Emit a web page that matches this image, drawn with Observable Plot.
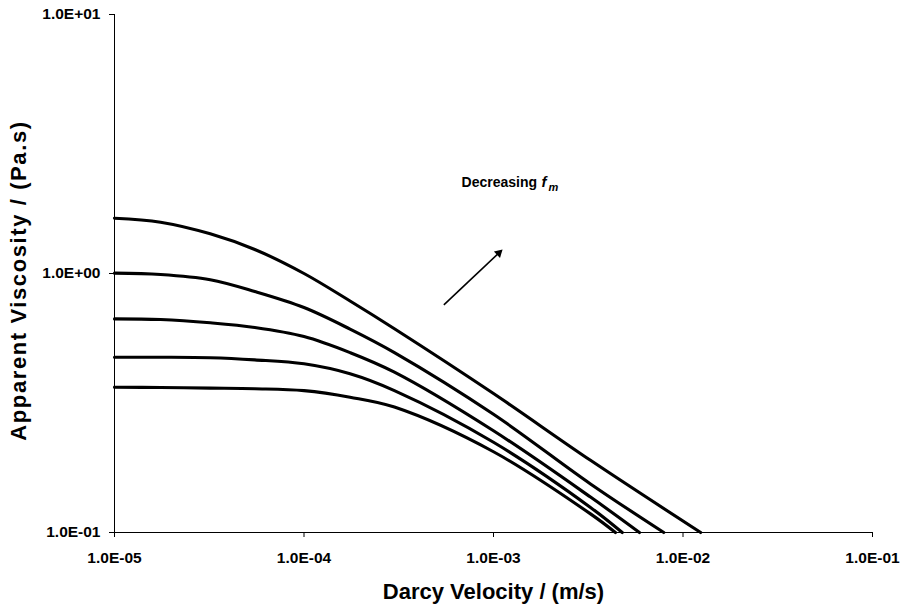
<!DOCTYPE html>
<html>
<head>
<meta charset="utf-8">
<script src="https://cdn.jsdelivr.net/npm/d3@7"></script>
<script src="https://cdn.jsdelivr.net/npm/@observablehq/plot@0.6"></script>
<style>
  html, body { margin: 0; padding: 0; background: #fff; }
</style>
</head>
<body>
<div id="chart"></div>
<script>
// Darcy velocity (m/s) sample points shared by all curves
const velocity = [1e-5, 1.75e-5, 3.2e-5, 5.5e-5, 1.0e-4, 1.75e-4, 3.0e-4, 1.0e-3, 3.25e-3];
// Apparent viscosity (Pa.s) of each curve at those velocities
const curve1 = [1.635, 1.578, 1.423, 1.238, 1.000, 0.783, 0.612, 0.344, 0.190];
const curve2 = [1.003, 0.991, 0.946, 0.852, 0.739, 0.610, 0.495, 0.286, 0.154];
const curve3 = [0.668, 0.664, 0.645, 0.619, 0.571, 0.495, 0.416, 0.247, 0.137];
const curve4 = [0.475, 0.475, 0.473, 0.464, 0.448, 0.410, 0.353, 0.223, 0.125];
const curve5 = [0.364, 0.363, 0.361, 0.359, 0.353, 0.333, 0.305, 0.205, 0.118];
// velocity where each curve leaves the chart at the bottom (viscosity 0.1)
const endVelocity = [1.24e-2, 7.92e-3, 5.89e-3, 4.78e-3, 4.40e-3];
const endViscosity = 0.1;

const xTicks = [1e-5, 1e-4, 1e-3, 1e-2, 1e-1];
const xTickLabels = ["1.0E-05", "1.0E-04", "1.0E-03", "1.0E-02", "1.0E-01"];
const yTicks = [0.1, 1, 10];
const yTickLabels = ["1.0E-01", "1.0E+00", "1.0E+01"];

const xTitle = "Darcy Velocity / (m/s)";
const yTitle = "Apparent Viscosity / (Pa.s)";
const noteText = "Decreasing";
const noteSymbol = "f";
const noteSub = "m";
// annotation anchors in data units
const noteAt = {x: 6.78e-4, y: 2.25};
const arrowFrom = {x: 5.47e-4, y: 0.757};
const arrowTo = {x: 1.067e-3, y: 1.2};

const curves = [curve1, curve2, curve3, curve4, curve5];
const rows = [];
curves.forEach((c, i) => {
  c.forEach((mu, j) => rows.push({series: i, v: velocity[j], mu}));
  rows.push({series: i, v: endVelocity[i], mu: endViscosity});
});

const font = "'Liberation Sans', Arial, Helvetica, sans-serif";

const chart = Plot.plot({
  width: 901,
  height: 612,
  marginLeft: 114,
  marginRight: 29,
  marginTop: 14,
  marginBottom: 80,
  style: {fontFamily: font, fontWeight: "bold", fontSize: "15px", color: "#000", background: "#fff"},
  x: {type: "log", domain: [1e-5, 1e-1]},
  y: {type: "log", domain: [0.1, 10]},
  marks: [
    Plot.axisX({ticks: xTicks, tickFormat: d => xTickLabels[xTicks.indexOf(d)], tickSize: 5, tickPadding: 14, label: null, stroke: "#000", fontWeight: "bold", fontSize: 15.5}),
    Plot.axisY({ticks: yTicks, tickFormat: d => yTickLabels[yTicks.indexOf(d)], tickSize: 5, tickPadding: 9, label: null, stroke: "#000", fontWeight: "bold", fontSize: 15.5}),
    Plot.frame({anchor: "bottom", stroke: "#000"}),
    Plot.frame({anchor: "left", stroke: "#000"}),
    Plot.line(rows, {x: "v", y: "mu", z: "series", stroke: "#000", strokeWidth: 3.1, curve: "catmull-rom"}),
    Plot.link([0], {x1: () => arrowFrom.x, y1: () => arrowFrom.y, x2: () => arrowTo.x, y2: () => arrowTo.y, stroke: "#000", strokeWidth: 1.6}),
    Plot.dot([0], {x: () => arrowTo.x, y: () => arrowTo.y, symbol: "triangle", r: 3.3, rotate: 47, fill: "#000", stroke: "none"}),
    Plot.text([noteText], {x: () => noteAt.x, y: () => noteAt.y, text: d => d, textAnchor: "start", fontSize: 14, fontWeight: "bold", fontFamily: font}),
    Plot.text([noteSymbol], {x: () => noteAt.x, y: () => noteAt.y, text: d => d, textAnchor: "start", dx: 80, fontSize: 15, fontWeight: "bold", fontStyle: "italic", fontFamily: font}),
    Plot.text([noteSub], {x: () => noteAt.x, y: () => noteAt.y, text: d => d, textAnchor: "start", dx: 87, dy: 5, fontSize: 11, fontWeight: "bold", fontStyle: "italic", fontFamily: font}),
    Plot.text([xTitle], {frameAnchor: "bottom", text: d => d, textAnchor: "middle", dy: 66, fontSize: 22, fontWeight: "bold", fontFamily: font}),
    Plot.text([yTitle], {frameAnchor: "left", text: d => d, textAnchor: "middle", dx: -96, dy: 7, rotate: -90, fontSize: 22, fontWeight: "bold", fontFamily: font})
  ]
});
d3.select(chart).selectAll("text").filter(function() { return this.textContent === yTitle; })
  .attr("letter-spacing", "1.6px");
document.getElementById("chart").appendChild(chart);
</script>
</body>
</html>
